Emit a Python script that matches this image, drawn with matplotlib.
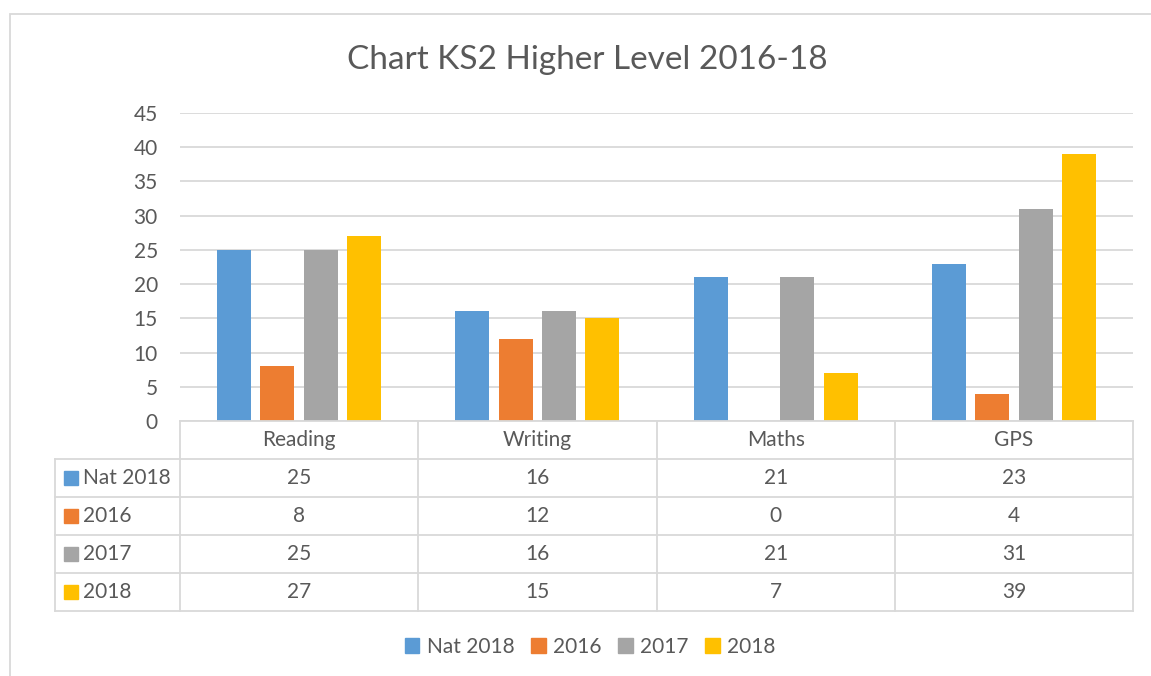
import numpy as np
import matplotlib
matplotlib.use("Agg")
import matplotlib.pyplot as plt
from matplotlib.patches import Patch, Rectangle

plt.rcParams["font.family"] = ["Lato", "DejaVu Sans"]

subjects = ["Reading", "Writing", "Maths", "GPS"]
series = ["Nat 2018", "2016", "2017", "2018"]
nat_2018 = [25, 16, 21, 23]
y2016 = [8, 12, 0, 4]
y2017 = [25, 16, 21, 31]
y2018 = [27, 15, 7, 39]
values = [nat_2018, y2016, y2017, y2018]
colors = ["#5B9BD5", "#ED7D31", "#A5A5A5", "#FFC000"]
TXT = "#595959"
GRID = "#D9D9D9"
FS = 15

W, H = 1151, 676
fig = plt.figure(figsize=(W / 100, H / 100), dpi=100)

def px(x0, y0, x1, y1):
    return [x0 / W, 1 - y1 / H, (x1 - x0) / W, (y1 - y0) / H]

# outer chart frame (cropped at right/bottom)
fig.patches.append(Rectangle((10 / W, -0.1), 1.2, 1 - 14 / H + 0.1, transform=fig.transFigure,
                             fill=False, ec=GRID, lw=1.3))

ax = fig.add_axes(px(180, 113, 1133, 421))
x = np.arange(len(subjects))
bw, step = 0.143, 0.182
for i, (s, v, c) in enumerate(zip(series, values, colors)):
    ax.bar(x + (i - 1.5) * step, v, bw, color=c, zorder=2)
ax.set_xlim(-0.5, 3.5)
ax.set_ylim(0, 45)
ax.set_yticks(range(0, 46, 5))
ax.yaxis.grid(True, color=GRID, lw=1.3, zorder=0)
ax.tick_params(axis="y", length=0, labelsize=FS, labelcolor=TXT, pad=16)
ax.set_xticks([])
for sp in ax.spines.values():
    sp.set_visible(False)

fig.text(587 / W, 1 - 60 / H, "Chart KS2 Higher Level 2016-18", ha="center", va="center",
         fontsize=24, color=TXT)

# data table under the plot
left = -0.5 - 125 / 238
tab = fig.add_axes(px(55, 421, 1133, 611))
tab.set_xlim(left, 3.5)
tab.set_ylim(5, 0)
tab.axis("off")
lk = dict(color=GRID, lw=1.3, clip_on=False)
tab.plot([-0.5, 3.5], [0, 0], **lk)
for r in range(1, 6):
    tab.plot([left, 3.5], [r, r], **lk)
for cx in [-0.5, 0.5, 1.5, 2.5, 3.5]:
    tab.plot([cx, cx], [0, 5], **lk)
tab.plot([left, left], [1, 5], **lk)
for j, s in enumerate(subjects):
    tab.text(j, 0.5, s, ha="center", va="center", fontsize=FS, color=TXT)
for i, (s, v, c) in enumerate(zip(series, values, colors)):
    r = i + 1.5
    tab.add_patch(Rectangle((left + 9 / 238, r - 0.18), 14 / 238, 0.36, color=c, clip_on=False))
    tab.text(left + 28 / 238, r, s, ha="left", va="center", fontsize=FS, color=TXT)
    for j, val in enumerate(v):
        tab.text(j, r, str(val), ha="center", va="center", fontsize=FS, color=TXT)

handles = [Patch(color=c, label=s) for s, c in zip(series, colors)]
fig.legend(handles=handles, loc="center", bbox_to_anchor=(590 / W, 1 - 647 / H), ncol=4,
           frameon=False, fontsize=FS, labelcolor=TXT, handlelength=0.7, handleheight=0.7,
           handletextpad=0.35, columnspacing=0.8)

fig.savefig("out.png", dpi=100)
